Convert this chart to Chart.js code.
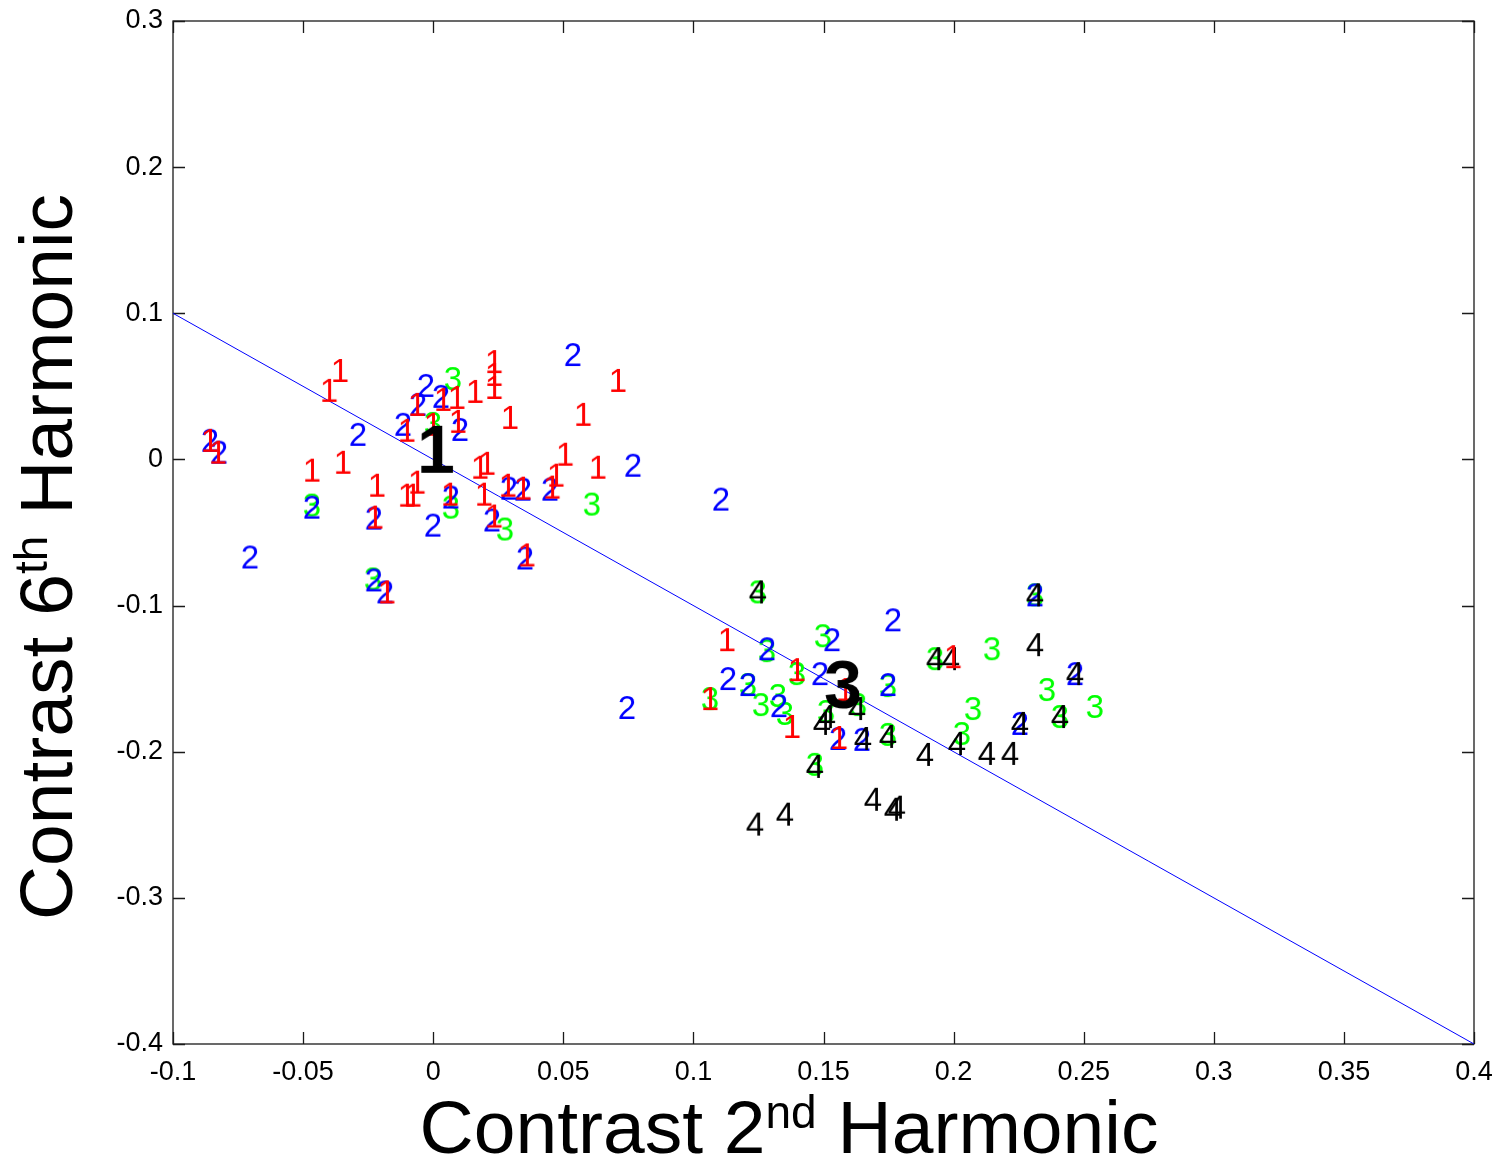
<!DOCTYPE html>
<html>
<head>
<meta charset="utf-8">
<title>Contrast 2nd vs 6th Harmonic</title>
<script src="https://cdn.jsdelivr.net/npm/chart.js@4.4.1/dist/chart.umd.min.js"></script>
<style>
  html, body { margin: 0; padding: 0; background: #fff; }
  canvas { display: block; }
</style>
</head>
<body>
<canvas id="plot" width="1498" height="1162"></canvas>
<script>
// class 1 points (red)
const c1x = [-0.0358, -0.0400, -0.0858, -0.0827, -0.0101, -0.0062, -0.0466, -0.0347, -0.0216, -0.0101,
  -0.0078, -0.0062, -0.0224, -0.0178, 0.0038, 0.0091, 0.0161, 0.0234, 0.0234, 0.0234,
  -0.0001, 0.0095, 0.0295, 0.0180, 0.0207, 0.0710, 0.0576, 0.0507, 0.0633, 0.0472,
  0.0457, 0.0287, 0.0345, 0.0195, 0.0065, 0.0234, 0.0360, 0.1129, 0.1398, 0.1064,
  0.1379, 0.1583, 0.1560, 0.1998];
const c1y = [0.0612, 0.0476, 0.0134, 0.0053, 0.0203, 0.0380, -0.0070, -0.0016, -0.0173, -0.0241,
  -0.0241, -0.0152, -0.0391, -0.0903, 0.0414, 0.0428, 0.0469, 0.0673, 0.0585, 0.0496,
  0.0244, 0.0264, 0.0291, -0.0050, -0.0023, 0.0544, 0.0312, 0.0039, -0.0050, -0.0104,
  -0.0186, -0.0173, -0.0193, -0.0234, -0.0234, -0.0384, -0.0650, -0.1230, -0.1435, -0.1633,
  -0.1824, -0.1571, -0.1899, -0.1346];

// class 2 points (blue)
const c2x = [-0.0858, -0.0823, -0.0289, -0.0116, -0.0058, -0.0028, -0.0466, -0.0228, -0.0704, -0.0228,
  -0.0185, 0.0030, 0.0103, 0.0537, 0.0768, 0.0449, 0.0291, 0.0345, 0.0068, -0.0001,
  0.0226, 0.0353, 0.1106, 0.0745, 0.1767, 0.1283, 0.1533, 0.1487, 0.1748, 0.1133,
  0.1210, 0.1329, 0.1556, 0.1648, 0.2313, 0.2467, 0.2255];
const c2y = [0.0134, 0.0053, 0.0175, 0.0244, 0.0380, 0.0510, -0.0323, -0.0398, -0.0664, -0.0821,
  -0.0903, 0.0435, 0.0209, 0.0721, -0.0036, -0.0200, -0.0193, -0.0200, -0.0254, -0.0446,
  -0.0411, -0.0671, -0.0268, -0.1694, -0.1094, -0.1292, -0.1230, -0.1462, -0.1537, -0.1496,
  -0.1537, -0.1681, -0.1906, -0.1912, -0.0923, -0.1462, -0.1803];

// class 3 points (green)
const c3x = [-0.0466, -0.0231, 0.0076, -0.0001, 0.0068, 0.0276, 0.0610, 0.1248, 0.1283, 0.1498,
  0.1398, 0.1748, 0.1210, 0.1064, 0.1260, 0.1325, 0.1352, 0.1510, 0.1633, 0.1748,
  0.1467, 0.2313, 0.2148, 0.1929, 0.2359, 0.2543, 0.2075, 0.2409, 0.2032];
const c3y = [-0.0309, -0.0814, 0.0557, 0.0250, -0.0323, -0.0473, -0.0302, -0.0903, -0.1305, -0.1203,
  -0.1462, -0.1544, -0.1537, -0.1633, -0.1674, -0.1612, -0.1735, -0.1721, -0.1674, -0.1878,
  -0.2083, -0.0923, -0.1292, -0.1360, -0.1571, -0.1687, -0.1701, -0.1756, -0.1872];

// class 4 points (black)
const c4x = [0.1248, 0.1494, 0.1513, 0.1629, 0.1652, 0.1748, 0.1467, 0.1690, 0.1767, 0.1782,
  0.1237, 0.1352, 0.2313, 0.2313, 0.1929, 0.1990, 0.2467, 0.2255, 0.2409, 0.2013,
  0.1890, 0.2128, 0.2217];
const c4y = [-0.0903, -0.1803, -0.1756, -0.1701, -0.1906, -0.1892, -0.2097, -0.2322, -0.2390, -0.2376,
  -0.2492, -0.2424, -0.0923, -0.1264, -0.1360, -0.1360, -0.1462, -0.1803, -0.1756, -0.1940,
  -0.2015, -0.2008, -0.2008];

// cluster centre labels
const centreNames = ['1', '3'];
const centreX = [0.0011, 0.1575];
const centreY = [0.0073, -0.1537];

// fitted line end points
const lineX = [-0.1, 0.4];
const lineY = [0.1, -0.4];

const xRange = [-0.1, 0.4];
const yRange = [-0.4, 0.3];
const xStep = 0.05;
const yStep = 0.1;

const FONT = "'Liberation Sans', Arial, Helvetica, sans-serif";

function pairs(xs, ys) {
  return xs.map((x, i) => ({ x: x, y: ys[i] }));
}

// a digit drawn into a small canvas, used as the point style
function glyph(text, color, font, size) {
  const c = document.createElement('canvas');
  c.width = Math.ceil(size * 1.2);
  c.height = Math.ceil(size * 1.2);
  const g = c.getContext('2d');
  g.font = font;
  g.fillStyle = color;
  g.textAlign = 'center';
  g.textBaseline = 'alphabetic';
  g.fillText(text, c.width / 2, c.height / 2 + size * 0.358);
  return c;
}

function digitSet(name, color, xs, ys, order) {
  return {
    type: 'scatter',
    label: name,
    data: pairs(xs, ys),
    pointStyle: glyph(name, color, '33px ' + FONT, 33),
    pointRadius: 10,
    order: order
  };
}

const frameTicks = {
  id: 'frameTicks',
  beforeDatasetsDraw(chart) {
    const { ctx, chartArea: a, scales } = chart;
    ctx.save();
    ctx.strokeStyle = '#1a1a1a';
    ctx.lineWidth = 1.3;
    ctx.strokeRect(a.left, a.top, a.right - a.left, a.bottom - a.top);
    const len = 12;
    ctx.beginPath();
    scales.x.ticks.forEach(t => {
      const px = Math.round(scales.x.getPixelForValue(t.value)) + 0.5;
      ctx.moveTo(px, a.bottom); ctx.lineTo(px, a.bottom - len);
      ctx.moveTo(px, a.top); ctx.lineTo(px, a.top + len);
    });
    scales.y.ticks.forEach(t => {
      const py = Math.round(scales.y.getPixelForValue(t.value)) + 0.5;
      ctx.moveTo(a.left, py); ctx.lineTo(a.left + len, py);
      ctx.moveTo(a.right, py); ctx.lineTo(a.right - len, py);
    });
    ctx.stroke();
    ctx.restore();
  }
};

// axis titles with superscripts
function drawSupTitle(ctx, parts, cx, baseY) {
  const big = '75px ' + FONT, small = '46px ' + FONT;
  let total = 0;
  parts.forEach(p => { ctx.font = p.sup ? small : big; total += ctx.measureText(p.t).width; });
  let x = cx - total / 2;
  parts.forEach(p => {
    ctx.font = p.sup ? small : big;
    ctx.fillText(p.t, x, p.sup ? baseY - 25 : baseY);
    x += ctx.measureText(p.t).width;
  });
}

const axisTitles = {
  id: 'axisTitles',
  afterDraw(chart) {
    const ctx = chart.ctx;
    ctx.save();
    ctx.fillStyle = '#000';
    ctx.textAlign = 'left';
    ctx.textBaseline = 'alphabetic';
    drawSupTitle(ctx, [{ t: 'Contrast 2' }, { t: 'nd', sup: true }, { t: ' Harmonic' }], 789, 1153);
    ctx.translate(72, 557);
    ctx.rotate(-Math.PI / 2);
    drawSupTitle(ctx, [{ t: 'Contrast 6' }, { t: 'th', sup: true }, { t: ' Harmonic' }], 0, 0);
    ctx.restore();
  }
};

const tickLabel = v => String(Math.round(v * 100) / 100);

new Chart(document.getElementById('plot').getContext('2d'), {
  type: 'scatter',
  data: {
    datasets: [
      {
        type: 'line',
        label: 'fit',
        data: pairs(lineX, lineY),
        borderColor: '#0000ff',
        borderWidth: 1,
        pointRadius: 0,
        fill: false,
        order: 6
      },
      digitSet('3', '#00ff00', c3x, c3y, 4),
      digitSet('2', '#0000ff', c2x, c2y, 3),
      digitSet('4', '#000000', c4x, c4y, 2),
      digitSet('1', '#ff0000', c1x, c1y, 1),
      {
        type: 'scatter',
        label: 'centres',
        data: pairs(centreX, centreY),
        pointStyle: centreNames.map(n => glyph(n, '#000000', 'bold 68px ' + FONT, 68)),
        pointRadius: 20,
        order: 0
      }
    ]
  },
  options: {
    responsive: false,
    animation: false,
    events: [],
    layout: { padding: { top: 18, right: 24, left: 0, bottom: 0 } },
    plugins: { legend: { display: false }, tooltip: { enabled: false } },
    scales: {
      x: {
        type: 'linear',
        min: xRange[0], max: xRange[1],
        grid: { display: false, drawTicks: false },
        border: { display: false },
        ticks: {
          stepSize: xStep, autoSkip: false, maxRotation: 0, padding: 12,
          color: '#000', font: { family: FONT, size: 27 },
          callback: tickLabel
        },
        afterFit: s => { s.height = 118; s.paddingLeft = 0; s.paddingRight = 0; }
      },
      y: {
        type: 'linear',
        min: yRange[0], max: yRange[1],
        grid: { display: false, drawTicks: false },
        border: { display: false },
        ticks: {
          stepSize: yStep, autoSkip: false, padding: 10,
          color: '#000', font: { family: FONT, size: 27 },
          callback: tickLabel
        },
        afterFit: s => { s.width = 173; s.paddingTop = 0; s.paddingBottom = 0; }
      }
    }
  },
  plugins: [frameTicks, axisTitles]
});
</script>
</body>
</html>
